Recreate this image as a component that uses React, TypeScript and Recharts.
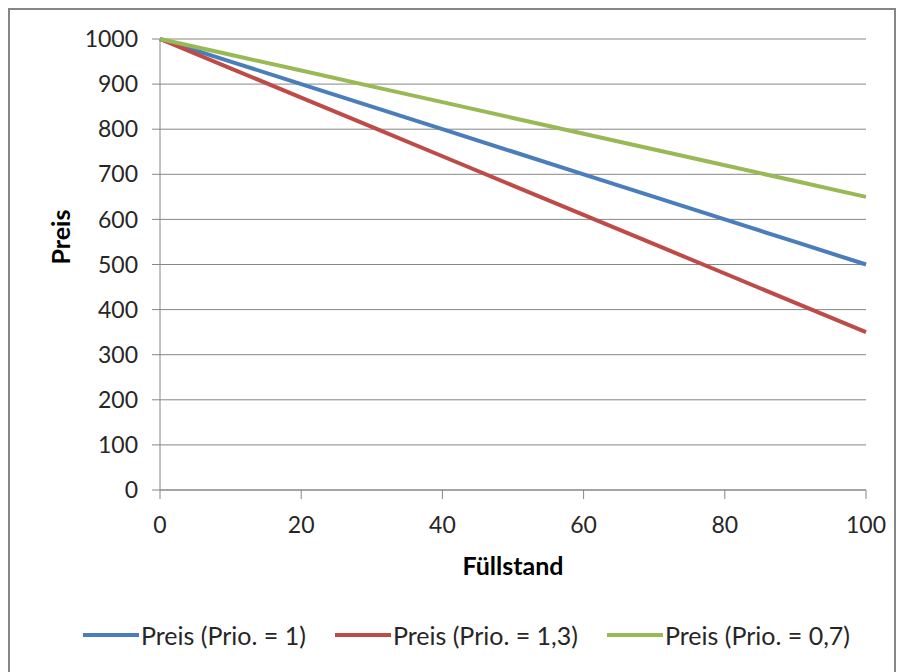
import React from 'react'
import { LineChart, Line, XAxis, YAxis, CartesianGrid, Legend } from 'recharts'

const fuellstand = [0, 10, 20, 30, 40, 50, 60, 70, 80, 90, 100]
const preisPrio1 = [1000, 950, 900, 850, 800, 750, 700, 650, 600, 550, 500]
const preisPrio13 = [1000, 935, 870, 805, 740, 675, 610, 545, 480, 415, 350]
const preisPrio07 = [1000, 965, 930, 895, 860, 825, 790, 755, 720, 685, 650]
const xTicks = [0, 20, 40, 60, 80, 100]
const yTicks = [0, 100, 200, 300, 400, 500, 600, 700, 800, 900, 1000]

const series = [
  { key: 'p1', name: 'Preis (Prio. = 1)', color: '#4A7EBB', values: preisPrio1 },
  { key: 'p13', name: 'Preis (Prio. = 1,3)', color: '#BE4B48', values: preisPrio13 },
  { key: 'p07', name: 'Preis (Prio. = 0,7)', color: '#98B954', values: preisPrio07 }
]

const data = fuellstand.map((x, i) => ({
  x,
  p1: preisPrio1[i],
  p13: preisPrio13[i],
  p07: preisPrio07[i]
}))

const font = 'Lato, "Open Sans", sans-serif'
const gray = '#868686'
const textColor = '#262626'

const LegendContent: React.FC = () => (
  <div style={{ display: 'flex', justifyContent: 'flex-start', alignItems: 'center', height: 30, width: 884, paddingLeft: 73, boxSizing: 'border-box', whiteSpace: 'nowrap', fontFamily: font, fontSize: 25, color: textColor }}>
    {series.map((s) => (
      <div key={s.key} style={{ display: 'flex', alignItems: 'center', flexShrink: 0, marginRight: 29 }}>
        <svg width={56} height={6} style={{ marginRight: 2, flexShrink: 0 }}>
          <line x1={0} y1={3} x2={56} y2={3} stroke={s.color} strokeWidth={4} strokeLinecap="round" />
        </svg>
        <span style={{ whiteSpace: 'nowrap' }}>{s.name}</span>
      </div>
    ))}
  </div>
)

export default function App() {
  return (
    <div style={{ width: 884, height: 670, border: `2px solid ${gray}`, background: '#fff', boxSizing: 'content-box' }}>
      <LineChart width={884} height={670} data={data} margin={{ top: 29, right: 28, left: 60, bottom: 75 }}>
        <CartesianGrid vertical={false} stroke={gray} strokeWidth={1} />
        <XAxis
          dataKey="x"
          type="number"
          domain={[0, 100]}
          ticks={xTicks}
          stroke={gray}
          tickSize={9}
          tickMargin={18}
          tick={{ fill: textColor, fontFamily: font, fontSize: 23 }}
          height={85}
          label={{ value: 'Füllstand', position: 'insideBottom', offset: 0, fill: '#000', fontFamily: font, fontSize: 25, fontWeight: 700 }}
        />
        <YAxis
          type="number"
          domain={[0, 1000]}
          ticks={yTicks}
          stroke={gray}
          tickSize={8}
          tickMargin={14}
          width={90}
          tick={{ fill: textColor, fontFamily: font, fontSize: 23 }}
          label={{ value: 'Preis', angle: -90, position: 'insideLeft', offset: -9, fill: '#000', fontFamily: font, fontSize: 25, fontWeight: 700 }}
        />
        {series.map((s) => (
          <Line
            key={s.key}
            dataKey={s.key}
            name={s.name}
            type="linear"
            stroke={s.color}
            strokeWidth={4}
            dot={false}
            isAnimationActive={false}
          />
        ))}
        <Legend content={<LegendContent />} wrapperStyle={{ top: 610, left: 0, width: 884 }} />
      </LineChart>
    </div>
  )
}
